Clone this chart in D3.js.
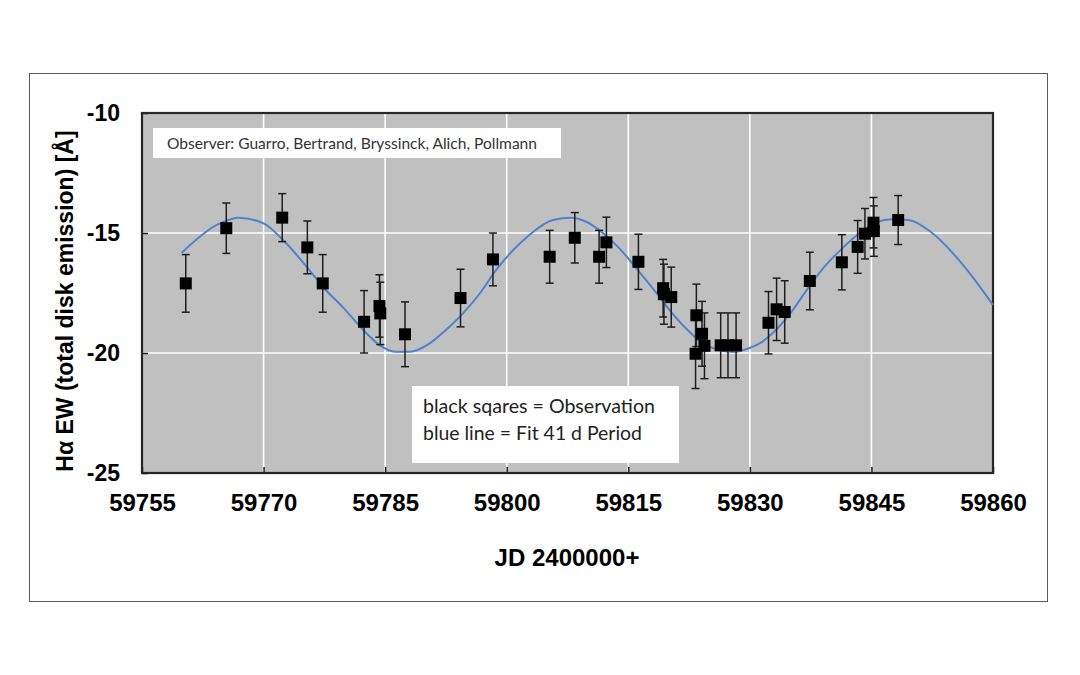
<!DOCTYPE html>
<html>
<head>
<meta charset="utf-8">
<script src="https://cdn.jsdelivr.net/npm/d3@7"></script>
<style>
  html, body { margin: 0; padding: 0; background: #ffffff; }
  svg { display: block; }
</style>
</head>
<body>
<svg id="chart" width="1080" height="675"></svg>
<script>
// ---- Data ----
const obsJD  = [59760.4, 59765.4, 59772.3, 59775.4, 59777.3, 59782.4, 59784.3, 59784.4, 59787.45, 59794.3,
                59798.3, 59805.3, 59808.4, 59811.4, 59812.3, 59816.25, 59819.3, 59819.4, 59820.3, 59823.4,
                59823.3, 59824.1, 59824.4, 59826.4, 59827.3, 59828.3, 59832.3, 59833.3, 59834.3, 59837.4,
                59841.35, 59843.3, 59844.2, 59845.25, 59845.3, 59848.3];
const obsEW  = [-17.1, -14.8, -14.36, -15.6, -17.1, -18.7, -18.04, -18.35, -19.22, -17.71,
                -16.1, -15.99, -15.2, -15.99, -15.39, -16.2, -17.3, -17.55, -17.67, -18.43,
                -20.03, -19.2, -19.7, -19.68, -19.68, -19.68, -18.74, -18.18, -18.29, -17.0,
                -16.22, -15.58, -15.03, -14.57, -14.92, -14.46];
const obsErr = [1.2, 1.05, 1.0, 1.1, 1.2, 1.3, 1.3, 1.3, 1.35, 1.2,
                1.1, 1.1, 1.05, 1.1, 1.05, 1.15, 1.2, 1.25, 1.25, 1.3,
                1.45, 1.35, 1.37, 1.35, 1.35, 1.35, 1.3, 1.3, 1.3, 1.2,
                1.15, 1.1, 1.05, 1.05, 1.05, 1.02];

const fitJD = [59759.9, 59764.8, 59766.9, 59770.0, 59772.4, 59775.3, 59777.3, 59779.8, 59782.3, 59784.3,
               59786.4, 59788.0, 59790.5, 59792.5, 59794.6, 59796.7, 59798.7, 59800.8, 59802.8, 59805.7,
               59808.0, 59809.8, 59811.9, 59813.9, 59816.0, 59818.0, 59820.1, 59822.1, 59824.2, 59826.2,
               59827.9, 59829.9, 59831.2, 59833.2, 59835.3, 59837.3, 59839.4, 59841.4, 59843.5, 59845.5,
               59847.6, 59849.6, 59852.3, 59855.8, 59858.3, 59860.0];
const fitEW = [-15.82, -14.57, -14.36, -14.6, -15.29, -16.4, -17.24, -18.1, -19.04, -19.67,
               -19.95, -19.95, -19.6, -19.04, -18.35, -17.51, -16.54, -15.71, -15.08, -14.46,
               -14.36, -14.53, -15.01, -15.64, -16.47, -17.3, -18.21, -18.97, -19.6, -19.88,
               -19.95, -19.8, -19.6, -19.04, -18.21, -17.24, -16.33, -15.64, -15.01, -14.57,
               -14.43, -14.46, -14.95, -16.13, -17.2, -18.0];

const xTicks = [59755, 59770, 59785, 59800, 59815, 59830, 59845, 59860];
const yTicks = [-10, -15, -20, -25];

const xTitle = "JD 2400000+";
const yTitle = "Hα EW (total disk emission) [Å]";
const observerText = "Observer: Guarro, Bertrand, Bryssinck, Alich, Pollmann";
const legendLines = ["black sqares = Observation", "blue line = Fit 41 d Period"];

// ---- Layout ----
const svg = d3.select("#chart");
const plot = { left: 142, top: 113, right: 993, bottom: 473 };

const x = d3.scaleLinear().domain([59755, 59860]).range([plot.left, plot.right]);
const y = d3.scaleLinear().domain([-25, -10]).range([plot.bottom, plot.top]);

// outer border
svg.append("rect")
  .attr("x", 29.5).attr("y", 73.5).attr("width", 1018).attr("height", 528)
  .attr("fill", "#ffffff").attr("stroke", "#5a5a5a").attr("stroke-width", 1);

// plot background
svg.append("rect")
  .attr("x", plot.left).attr("y", plot.top)
  .attr("width", plot.right - plot.left).attr("height", plot.bottom - plot.top)
  .attr("fill", "#c0c0c0");

// gridlines
const grid = svg.append("g");
grid.selectAll("line.vx").data(xTicks.slice(1, -1)).join("line")
  .attr("x1", d => x(d)).attr("x2", d => x(d))
  .attr("y1", plot.top).attr("y2", plot.bottom)
  .attr("stroke", "#ffffff").attr("stroke-width", 1.6);
grid.selectAll("line.hy").data(yTicks.slice(1, -1)).join("line")
  .attr("x1", plot.left).attr("x2", plot.right)
  .attr("y1", d => y(d)).attr("y2", d => y(d))
  .attr("stroke", "#ffffff").attr("stroke-width", 1.6);

// axes (ticks inward)
const fmt = d => String(d);
const xAxis = d3.axisBottom(x).tickValues(xTicks).tickSize(-6).tickPadding(21).tickFormat(fmt);
const yAxis = d3.axisLeft(y).tickValues(yTicks).tickSize(-6).tickPadding(22).tickFormat(fmt);

const gx = svg.append("g").attr("transform", `translate(0,${plot.bottom})`).call(xAxis);
const gy = svg.append("g").attr("transform", `translate(${plot.left},0)`).call(yAxis);
[gx, gy].forEach(g => {
  g.select(".domain").remove();
  g.selectAll(".tick line").attr("stroke", "#222").attr("stroke-width", 1.5);
  g.selectAll(".tick text")
    .attr("fill", "#000")
    .style("font-family", "'Liberation Sans', Arial, sans-serif")
    .style("font-weight", "bold");
});
gx.selectAll(".tick text").style("font-size", "24px").attr("dy", "0.71em");
gy.selectAll(".tick text").style("font-size", "23px").attr("dy", "0.34em");

// plot frame
svg.append("rect")
  .attr("x", plot.left).attr("y", plot.top)
  .attr("width", plot.right - plot.left).attr("height", plot.bottom - plot.top)
  .attr("fill", "none").attr("stroke", "#262626").attr("stroke-width", 2.2);

// fit line
const fitData = fitJD.map((d, i) => [d, fitEW[i]]);
const line = d3.line().x(d => x(d[0])).y(d => y(d[1])).curve(d3.curveMonotoneX);
svg.append("path").datum(fitData)
  .attr("d", line)
  .attr("fill", "none").attr("stroke", "#5082cc").attr("stroke-width", 2);

// observations
const obs = obsJD.map((d, i) => ({ jd: d, ew: obsEW[i], err: obsErr[i] }));
const eb = svg.append("g").attr("stroke", "#1e1e1e").attr("stroke-width", 1.5);
eb.selectAll("line.v").data(obs).join("line")
  .attr("x1", d => x(d.jd)).attr("x2", d => x(d.jd))
  .attr("y1", d => y(d.ew + d.err)).attr("y2", d => y(d.ew - d.err));
eb.selectAll("line.t").data(obs).join("line")
  .attr("x1", d => x(d.jd) - 4).attr("x2", d => x(d.jd) + 4)
  .attr("y1", d => y(d.ew + d.err)).attr("y2", d => y(d.ew + d.err));
eb.selectAll("line.b").data(obs).join("line")
  .attr("x1", d => x(d.jd) - 4).attr("x2", d => x(d.jd) + 4)
  .attr("y1", d => y(d.ew - d.err)).attr("y2", d => y(d.ew - d.err));

const sq = 12;
svg.append("g").selectAll("rect").data(obs).join("rect")
  .attr("x", d => x(d.jd) - sq / 2).attr("y", d => y(d.ew) - sq / 2)
  .attr("width", sq).attr("height", sq).attr("fill", "#000");

// observer box
svg.append("rect")
  .attr("x", 153).attr("y", 128).attr("width", 408).attr("height", 30)
  .attr("fill", "#ffffff");
svg.append("text")
  .attr("x", 167).attr("y", 149)
  .attr("textLength", 370).attr("lengthAdjust", "spacingAndGlyphs")
  .style("font-family", "Lato, 'Open Sans', sans-serif").style("font-size", "15px")
  .attr("fill", "#333")
  .text(observerText);

// legend box
svg.append("rect")
  .attr("x", 412).attr("y", 386).attr("width", 267).attr("height", 77)
  .attr("fill", "#ffffff");
svg.append("g").selectAll("text").data(legendLines).join("text")
  .attr("x", 423).attr("y", (d, i) => 413 + i * 27)
  .attr("textLength", (d, i) => i === 0 ? 232 : 219).attr("lengthAdjust", "spacingAndGlyphs")
  .style("font-family", "Lato, 'Open Sans', sans-serif").style("font-size", "19px")
  .attr("fill", "#222")
  .text(d => d);

// axis titles
svg.append("text")
  .attr("x", (plot.left + plot.right) / 2 - 0.5).attr("y", 566)
  .attr("text-anchor", "middle")
  .style("font-family", "'Liberation Sans', Arial, sans-serif").style("font-weight", "bold").style("font-size", "24px")
  .attr("fill", "#000")
  .text(xTitle);

svg.append("text")
  .attr("transform", "translate(73,301) rotate(-90)")
  .attr("text-anchor", "middle")
  .style("font-family", "'Liberation Sans', Arial, sans-serif").style("font-weight", "bold").style("font-size", "23px")
  .attr("fill", "#000")
  .text(yTitle);
</script>
</body>
</html>
